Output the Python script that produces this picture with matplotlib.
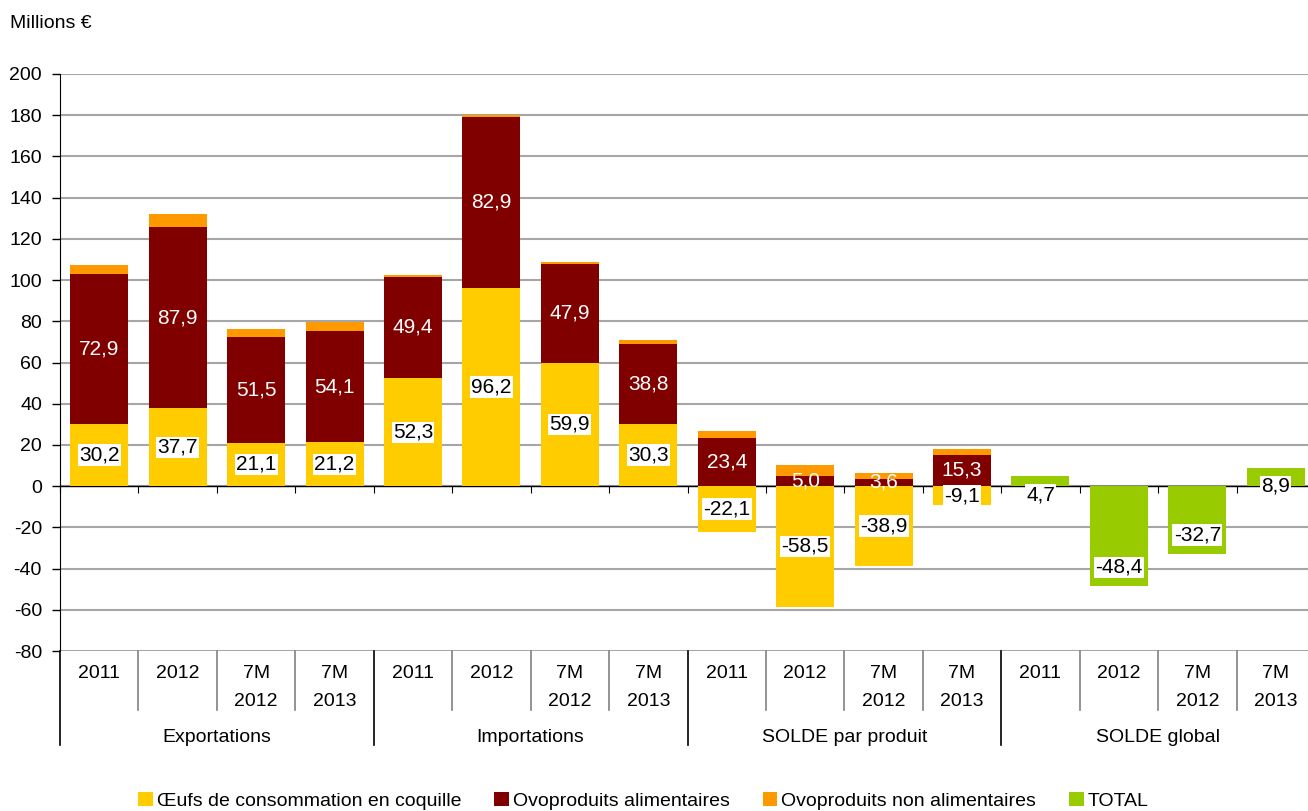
import matplotlib
matplotlib.use("Agg")
import matplotlib.pyplot as plt
from matplotlib.patches import Patch
from matplotlib.transforms import blended_transform_factory, offset_copy
import numpy as np

plt.rcParams['font.family'] = ['Liberation Sans', 'DejaVu Sans']
plt.rcParams['axes.unicode_minus'] = False

groups = ["Exportations", "Importations", "SOLDE par produit", "SOLDE global"]
periods = [["2011"], ["2012"], ["7M", "2012"], ["7M", "2013"]]

oeufs = [30.2, 37.7, 21.1, 21.2, 52.3, 96.2, 59.9, 30.3, -22.1, -58.5, -38.9, -9.1, 0, 0, 0, 0]
ovo_alim = [72.9, 87.9, 51.5, 54.1, 49.4, 82.9, 47.9, 38.8, 23.4, 5.0, 3.6, 15.3, 0, 0, 0, 0]
ovo_non = [4.0, 6.3, 3.5, 4.3, 0.6, 1.2, 0.9, 1.6, 3.4, 5.1, 2.6, 2.7, 0, 0, 0, 0]
total = [0, 0, 0, 0, 0, 0, 0, 0, 0, 0, 0, 0, 4.7, -48.4, -32.7, 8.9]

series_names = ["Œufs de consommation en coquille", "Ovoproduits alimentaires",
                "Ovoproduits non alimentaires", "TOTAL"]
colors = ["#FFCC00", "#800000", "#FF9900", "#99CC00"]

W, H = 1308, 811
fig = plt.figure(figsize=(W / 100, H / 100), dpi=100)
ax = fig.add_axes([60 / W, 1 - 651 / H, (1315 - 60) / W, (651 - 74) / H])

n = len(oeufs)
x = np.arange(n)
bw = 0.74
pos_base = np.zeros(n)
neg_base = np.zeros(n)
series = [oeufs, ovo_alim, ovo_non, total]
bottoms = []
for vals, c in zip(series, colors):
    v = np.array(vals, dtype=float)
    b = np.where(v >= 0, pos_base, neg_base)
    ax.bar(x, v, bottom=b, width=bw, color=c, zorder=3, linewidth=0)
    bottoms.append(b.copy())
    pos_base = pos_base + np.where(v > 0, v, 0)
    neg_base = neg_base + np.where(v < 0, v, 0)

def fmt(v):
    return f"{v:.1f}".replace(".", ",")

fs = 14
lfs = 15
box = dict(boxstyle="square,pad=0.06", fc="white", ec="none")
for i in range(n):
    if oeufs[i] != 0:
        yc = bottoms[0][i] + oeufs[i] / 2
        ax.text(x[i], yc, fmt(oeufs[i]), ha="center", va="center", fontsize=lfs, color="black",
                zorder=5, bbox=box)
    if ovo_alim[i] != 0:
        yc = bottoms[1][i] + ovo_alim[i] / 2
        ax.text(x[i], yc, fmt(ovo_alim[i]), ha="center", va="center", fontsize=lfs, color="white",
                zorder=5)
    if total[i] != 0:
        v = total[i]
        yc = v - 9 if v > 0 else v + 9
        ax.text(x[i], yc, fmt(v), ha="center", va="center", fontsize=lfs, color="black",
                zorder=5, bbox=box)

ax.set_xlim(-0.5, n - 0.5)
ax.set_ylim(-80, 200)
ax.set_yticks(np.arange(-80, 201, 20))
ax.yaxis.grid(True, color="#A6A6A6", linewidth=1.5, zorder=0)
ax.set_axisbelow(True)
ax.tick_params(axis="y", labelsize=fs, length=6, width=1, color="black", pad=7)

for s in ["top", "right"]:
    ax.spines[s].set_visible(False)
ax.spines["left"].set_color("black")
ax.spines["bottom"].set_position(("data", 0))
ax.spines["bottom"].set_color("black")
ax.spines["bottom"].set_linewidth(1)
ax.set_xticks(np.arange(-0.5, n, 1.0))
ax.set_xticklabels([])
ax.tick_params(axis="x", direction="out", length=5, color="black")

trans = blended_transform_factory(ax.transData, ax.transAxes)
for i in range(n):
    lines = periods[i % 4]
    for k, t in enumerate(lines):
        tr = offset_copy(trans, fig=fig, x=0, y=-(22 + 28 * k), units="dots")
        ax.text(x[i], 0, t, transform=tr, ha="center", va="center", fontsize=fs, clip_on=False)
for g, name in enumerate(groups):
    tr = offset_copy(trans, fig=fig, x=0, y=-86, units="dots")
    ax.text(g * 4 + 1.5, 0, name, transform=tr, ha="center", va="center", fontsize=fs, clip_on=False)

ax_h = 651 - 74
for b in np.arange(-0.5, n, 1.0):
    is_group = (round(b + 0.5) % 4 == 0)
    depth = 94 if is_group else 59
    col = "black" if is_group else "#808080"
    ax.plot([b, b], [0, -depth / ax_h], transform=trans, color=col, lw=1.2, clip_on=False, zorder=4)

fig.text(10 / W, 1 - 24 / H, "Millions €", fontsize=fs, ha="left", va="center")

handles = [Patch(facecolor=c, edgecolor="none") for c in colors]
fig.legend(handles, series_names, loc="center", bbox_to_anchor=(0.492, 10 / H), ncol=4,
           frameon=False, fontsize=fs, handlelength=0.75, handleheight=0.75,
           handletextpad=0.2, columnspacing=1.7)

fig.savefig("out.png", dpi=100)
